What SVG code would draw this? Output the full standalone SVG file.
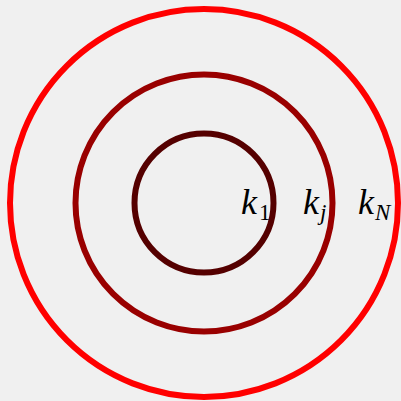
<svg xmlns="http://www.w3.org/2000/svg" width="401" height="401" viewBox="0 0 401 401">
<defs>
<style>
.ring{fill:none;stroke-width:6}
</style>
</defs>
<rect width="401" height="401" fill="#f0f0f0"/>
<g id="ringN"><circle class="ring" cx="204" cy="203" r="194" stroke="#ff0000"/></g>
<g id="ringj"><circle class="ring" cx="204" cy="203" r="128.5" stroke="#990000"/></g>
<g id="ring1"><circle class="ring" cx="204" cy="203" r="69.5" stroke="#550000"/></g>
<g font-family="Liberation Serif, serif" font-style="italic" font-size="36" fill="#000">
<g id="label1"><text x="241" y="214">k<tspan x="259" y="220" font-size="23" font-style="normal">1</tspan></text></g>
<g id="labelj"><text x="303" y="214">k<tspan x="320" y="220" font-size="23">j</tspan></text></g>
<g id="labelN"><text x="358" y="214">k<tspan x="375" y="220" font-size="23">N</tspan></text></g>
</g>
</svg>
